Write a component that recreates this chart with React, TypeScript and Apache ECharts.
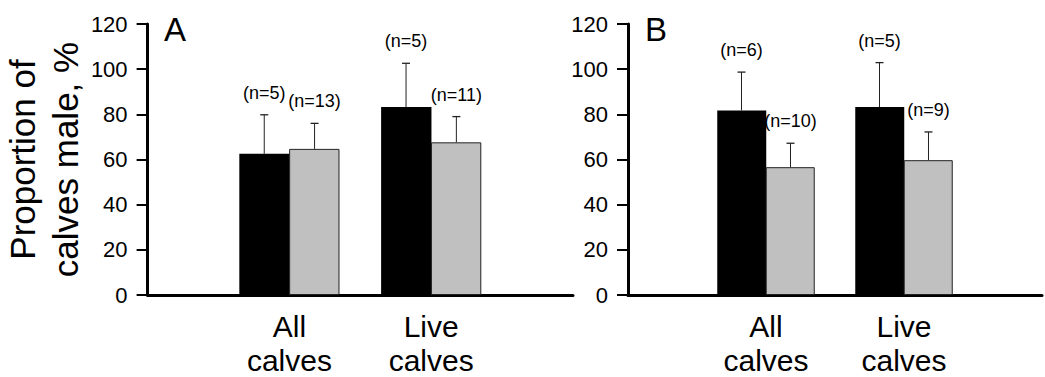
import React, { useEffect, useRef } from "react";
import * as echarts from "echarts";

const categories = ["All\ncalves", "Live\ncalves"];
const yTicks = [0, 20, 40, 60, 80, 100, 120];

// Panel A
const aBlack = [62.5, 83.2];
const aBlackErr = [79.8, 102.6];
const aBlackN = ["(n=5)", "(n=5)"];
const aGray = [64.7, 67.6];
const aGrayErr = [76.0, 79.0];
const aGrayN = ["(n=13)", "(n=11)"];

// Panel B
const bBlack = [81.7, 83.2];
const bBlackErr = [98.7, 102.9];
const bBlackN = ["(n=6)", "(n=5)"];
const bGray = [56.6, 59.7];
const bGrayErr = [67.2, 72.2];
const bGrayN = ["(n=10)", "(n=9)"];

const FONT = "Arial, 'Liberation Sans', sans-serif";
const BAR_FRAC = 0.355;

function barSeries(idx: number, vals: number[], color: string, border: string, borderW: number) {
  return {
    type: "bar",
    xAxisIndex: idx,
    yAxisIndex: idx,
    barWidth: BAR_FRAC * 100 + "%",
    barGap: "-1%",
    data: vals.map((v, i) => [i + 1, v]),
    itemStyle: { color, borderColor: border, borderWidth: borderW },
    silent: true,
  };
}

function errSeries(idx: number, means: number[], errs: number[], labels: string[], sign: number) {
  return {
    type: "custom",
    xAxisIndex: idx,
    yAxisIndex: idx,
    data: errs.map((e, i) => [i + 1, e, means[i]]),
    z: 5,
    silent: true,
    renderItem: (params: any, api: any) => {
      const ci = api.value(0);
      const top = api.value(1);
      const mean = api.value(2);
      const label = labels[params.dataIndex];
      const band = api.size([1, 0])[0];
      const center = api.coord([ci, 0]);
      const x = center[0] + (sign * band * BAR_FRAC) / 2;
      const yTop = api.coord([ci, top])[1];
      const yBar = api.coord([ci, mean])[1];
      return {
        type: "group",
        children: [
          { type: "line", shape: { x1: x, y1: yBar, x2: x, y2: yTop }, style: { stroke: "#222", lineWidth: 1 } },
          { type: "line", shape: { x1: x - 4, y1: yTop, x2: x + 4, y2: yTop }, style: { stroke: "#222", lineWidth: 1.3 } },
          {
            type: "text",
            x: x,
            y: yTop - 22,
            style: { text: label, fill: "#000", font: `18px ${FONT}`, align: "center", verticalAlign: "middle" },
          },
        ],
      };
    },
  };
}

const xAxisBase = (idx: number) => ({
  type: "category",
  gridIndex: idx,
  boundaryGap: false,
  data: ["", ...categories, ""],
  axisLine: { show: true, lineStyle: { color: "#000", width: 3 } },
  axisTick: { show: false },
  axisLabel: {
    interval: 0,
    margin: 14,
    color: "#000",
    fontSize: 30,
    lineHeight: 34,
    fontFamily: FONT,
  },
  splitLine: { show: false },
});

const yAxisBase = (idx: number) => ({
  type: "value",
  gridIndex: idx,
  min: 0,
  max: 120,
  interval: 20,
  axisLine: { show: true, lineStyle: { color: "#000", width: 3 } },
  axisTick: { show: true, inside: false, length: 11, lineStyle: { color: "#000", width: 2 } },
  axisLabel: {
    margin: 20,
    color: "#000",
    fontSize: 22,
    fontFamily: FONT,
    customValues: yTicks,
  },
  splitLine: { show: false },
});

export default function App() {
  const ref = useRef<HTMLDivElement>(null);
  useEffect(() => {
    if (!ref.current) return;
    const chart = echarts.init(ref.current, null, { renderer: "svg" });
    chart.setOption({
      animation: false,
      backgroundColor: "#fff",
      grid: [
        { left: 145, top: 24, width: 428, height: 272 },
        { left: 628, top: 24, width: 428, height: 272 },
      ],
      xAxis: [xAxisBase(0), xAxisBase(1)],
      yAxis: [
        {
          ...yAxisBase(0),
          name: "Proportion of\ncalves male, %",
          nameLocation: "middle",
          nameGap: 56,
          nameTextStyle: { color: "#000", fontSize: 35, lineHeight: 43, fontFamily: FONT },
        },
        yAxisBase(1),
      ],
      graphic: [
        { type: "text", left: 164, top: 13, style: { text: "A", font: `33px ${FONT}`, fill: "#000" } },
        { type: "text", left: 645, top: 13, style: { text: "B", font: `33px ${FONT}`, fill: "#000" } },
      ],
      series: [
        barSeries(0, aBlack, "#000", "#000", 0),
        barSeries(0, aGray, "#c0c0c0", "#222", 1),
        errSeries(0, aBlack, aBlackErr, aBlackN, -1),
        errSeries(0, aGray, aGrayErr, aGrayN, 1),
        barSeries(1, bBlack, "#000", "#000", 0),
        barSeries(1, bGray, "#c0c0c0", "#222", 1),
        errSeries(1, bBlack, bBlackErr, bBlackN, -1),
        errSeries(1, bGray, bGrayErr, bGrayN, 1),
      ],
    });
    return () => chart.dispose();
  }, []);
  return (
    <div
      ref={ref}
      style={{ position: "fixed", left: 0, top: 0, width: 1045, height: 377, background: "#fff" }}
    />
  );
}
